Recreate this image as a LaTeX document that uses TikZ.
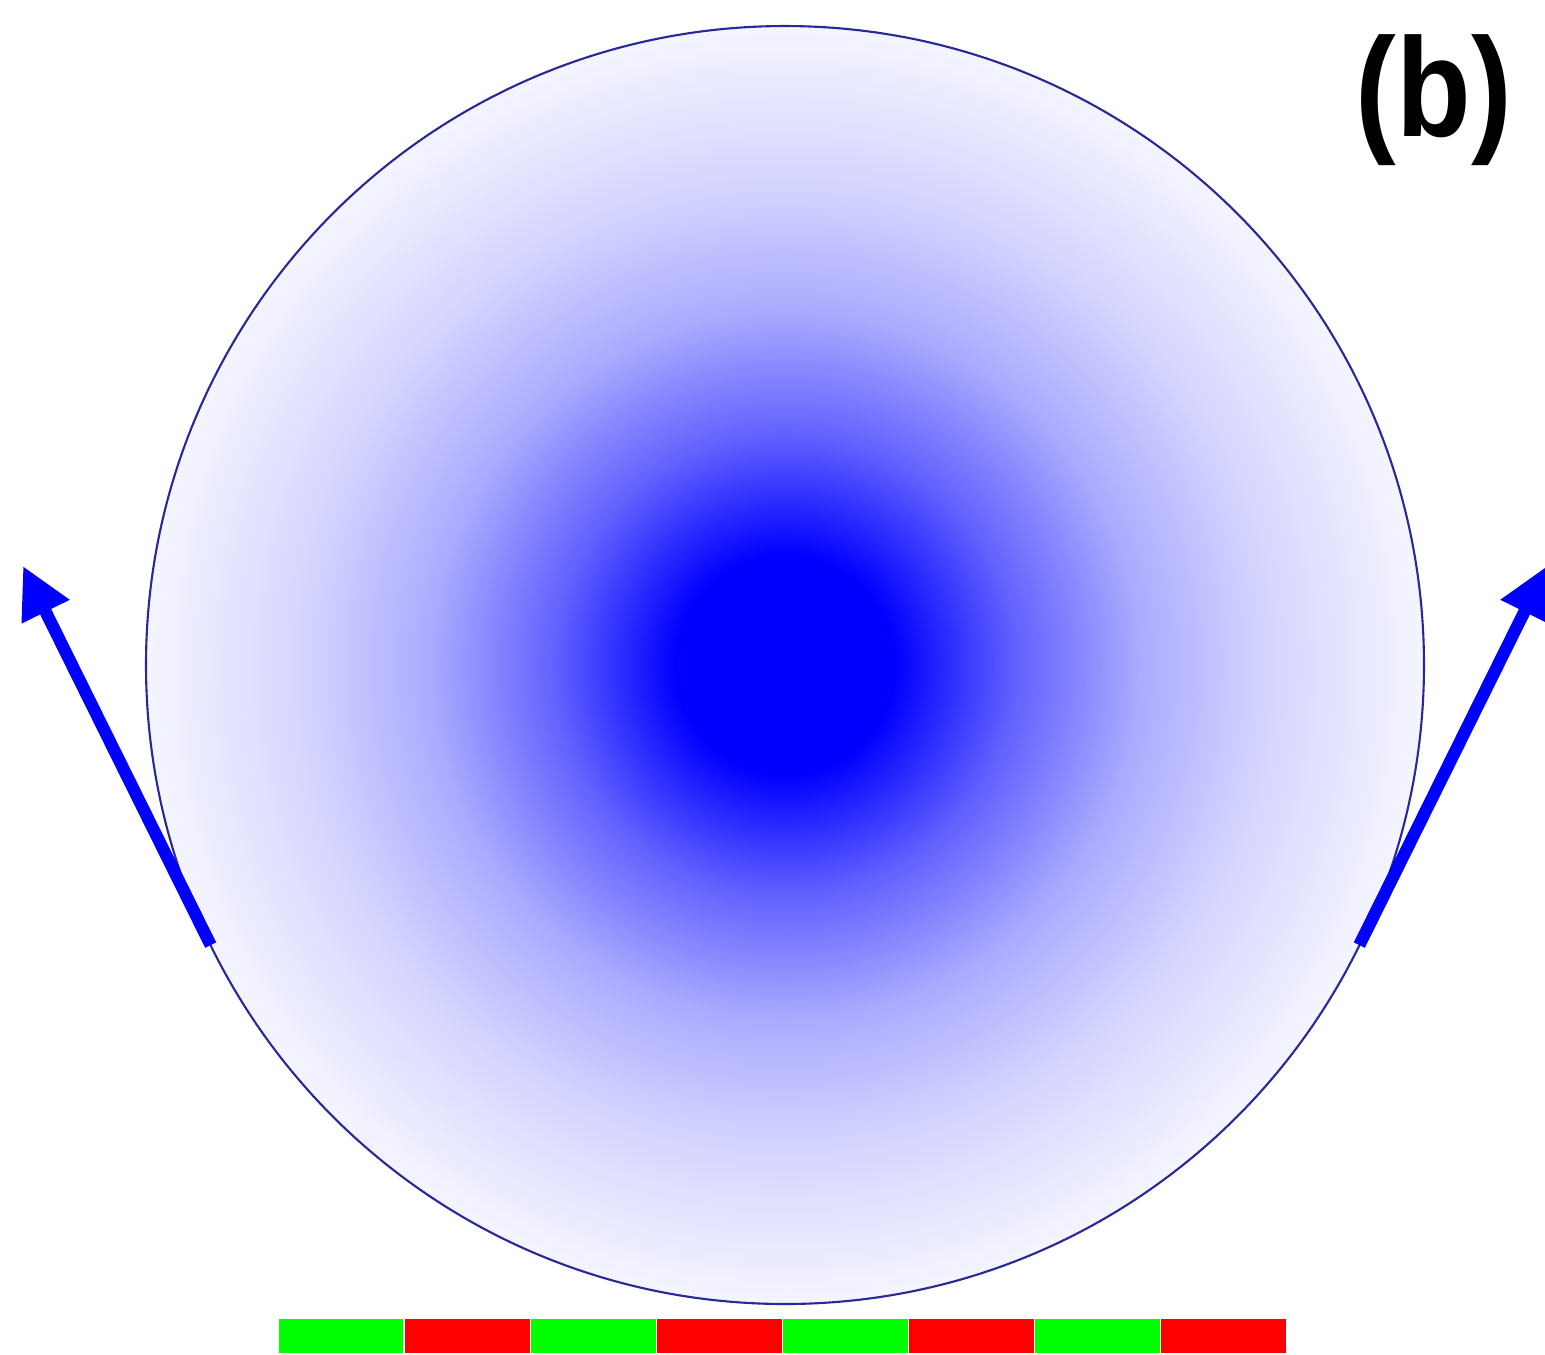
\documentclass[tikz,border=0pt]{standalone}
\usepackage{xcolor}
\usepackage{fontspec}
\usepackage{tikz}
\usetikzlibrary{arrows.meta,positioning,calc}
\newfontfamily\tagfont{Liberation Sans}
\definecolor{ballline}{RGB}{40,40,150}
\definecolor{barG}{RGB}{0,255,0}
\definecolor{barR}{RGB}{255,0,0}
\pgfdeclareradialshading{ballshade}{\pgfpoint{0bp}{0bp}}{color(0bp)=(blue); color(4.3bp)=(blue); color(9bp)=(blue!62); color(13.9bp)=(blue!33); color(18.75bp)=(blue!17); color(25bp)=(blue!4); color(50bp)=(blue!4)}

\begin{document}
\begin{tikzpicture}[x=0.1mm,y=-0.1mm,>=Latex,
  vec/.style={draw=blue,line width=3.5pt,-{Triangle[length=5.1mm,width=5mm]}},
  seg/.style={draw=white,line width=0.4pt,minimum width=12.61mm,minimum height=3.6mm,inner sep=0,outer sep=0}]
\useasboundingbox (0,0) rectangle (1545,1354);
\node[circle,draw=ballline,line width=0.6pt,shading=ballshade,minimum size=127.8mm,inner sep=0,outer sep=0] (ball) at (785,665) {};
\coordinate (tipL) at (23,566);
\coordinate (tipR) at (1547,566);
\draw[vec] (ball.206.2) -- (tipL);
\draw[vec] (ball.-26.2) -- (tipR);
% substrate stripes
\foreach \i/\c in {1/barG,2/barR,3/barG,4/barR,5/barG,6/barR,7/barG,8/barR}
  \node[seg,fill=\c] (s\i) at ({278+126.1*(\i-0.5)},1336) {};
\node[font=\tagfont\bfseries\fontsize{40}{40}\selectfont,xscale=0.87,inner sep=0] (tag) at (1434,100) {(b)};
\end{tikzpicture}
\end{document}
